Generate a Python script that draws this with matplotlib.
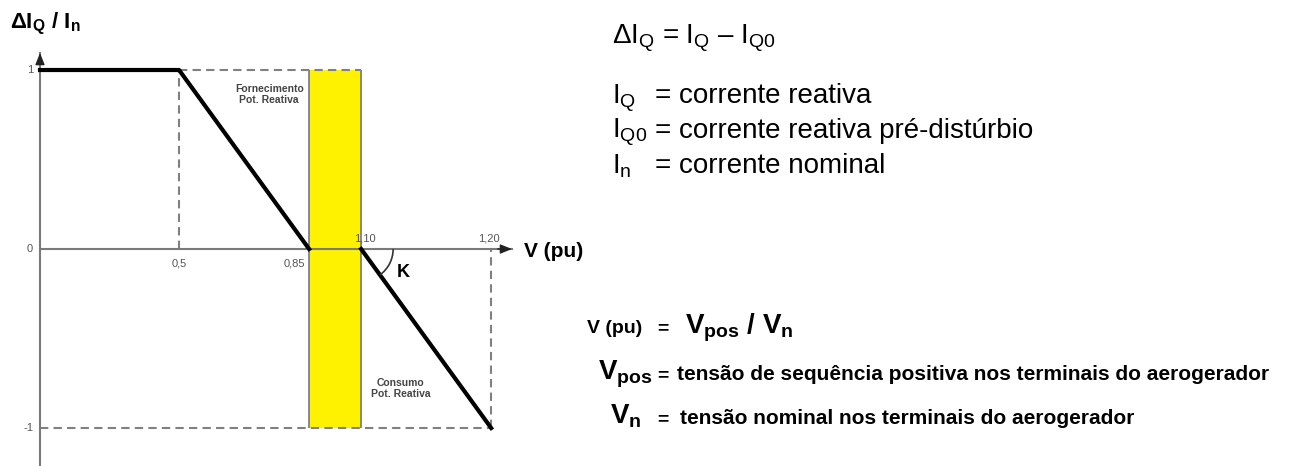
'''Reactive current injection curve (delta Iq / In versus V in pu).'''

import numpy as np
import matplotlib.pyplot as plt
from matplotlib.patches import Arc
from matplotlib.transforms import ScaledTranslation

plt.rcParams['font.family'] = ['Liberation Sans', 'DejaVu Sans']
plt.rcParams['mathtext.fontset'] = 'custom'
plt.rcParams['mathtext.rm'] = 'Liberation Sans'
plt.rcParams['mathtext.it'] = 'Liberation Sans:italic'
plt.rcParams['mathtext.bf'] = 'Liberation Sans:bold'

# characteristic: supply branch, dead band, absorption branch
v_supply = [0.0, 0.5, 0.85]
iq_supply = [1.0, 1.0, 0.0]
v_absorb = [1.10, 1.20]
iq_absorb = [0.0, -1.0]
deadband = [0.85, 1.10]

x_ticks = [0.5, 0.85, 1.10, 1.20]
x_tick_labels = ['0,5', '0,85', '1,10', '1,20']
y_ticks = [1, 0, -1]
y_tick_labels = ['1', '0', '-1']

# definitions written on the right
def_symbols = ['I$_\\mathrm{Q}$', 'I$_\\mathrm{Q0}$', 'I$_\\mathrm{n}$']
def_meanings = ['corrente reativa', 'corrente reativa pré-distúrbio', 'corrente nominal']
volt_symbols = ['V$_\\mathbf{pos}$', 'V$_\\mathbf{n}$']
volt_meanings = ['tensão de sequência positiva nos terminais do aerogerador',
                 'tensão nominal nos terminais do aerogerador']

# the V axis is schematic: every interval gets its own width
axis_breaks = [0.0, 0.5, 0.85, 1.10, 1.20, 1.30]
axis_widths = [0, 139, 269, 321, 451, 581]


def fwd(v):
    return np.interp(v, axis_breaks, axis_widths)


def inv(u):
    return np.interp(u, axis_widths, axis_breaks)


W, H = 1295, 466


def fx(px):
    return px / W


def fy(py):
    return 1 - py / H


fig = plt.figure(figsize=(W / 100, H / 100), dpi=100)
ax = fig.add_axes([fx(40), 0, 472 / W, 413 / H])
ax.set_xscale('function', functions=(fwd, inv))
ax.set_xlim(0, 1.216)
ax.set_ylim(-1.212, 1.095)
ax.set_axis_off()

grey = '#808080'
dash = (0, (4, 2.5))

# dead band
ax.fill_between(deadband, -1, 1, facecolor='#FFF200', edgecolor='none', zorder=1)
ax.vlines(deadband, -1, 1, color=grey, lw=1.3, zorder=2)

# dashed guides
ax.hlines(iq_supply[0], v_supply[1], deadband[1], color=grey, lw=1.5, linestyles=[dash], zorder=2)
ax.vlines(v_supply[1], 0, iq_supply[0], color=grey, lw=1.5, linestyles=[dash], zorder=2)
ax.hlines(iq_absorb[-1], 0, v_absorb[-1], color=grey, lw=1.5, linestyles=[dash], zorder=2)
ax.vlines(v_absorb[-1], iq_absorb[-1], 0, color=grey, lw=1.5, linestyles=[dash], zorder=2)

# axes with arrow heads
ax.axhline(0, color='#7a7a7a', lw=1.5, zorder=3, clip_on=False)
ax.axvline(0, color='#7a7a7a', lw=1.5, zorder=3, clip_on=False)
arrow = dict(arrowstyle='-|>,head_length=0.7,head_width=0.28', color='#222222',
             lw=1.0, shrinkA=0, shrinkB=0)
ax.annotate('', xy=(0, 1.095), xytext=(0, 1.06), arrowprops=arrow, zorder=4)
ax.annotate('', xy=(1.216, 0), xytext=(1.205, 0), arrowprops=arrow, zorder=4)

# characteristic curve
ax.plot(v_supply, iq_supply, color='black', lw=3, zorder=5, clip_on=False)
ax.plot(v_absorb, iq_absorb, color='black', lw=3, zorder=5, clip_on=False)

# tick labels
tick_style = dict(textcoords='offset points', fontsize=8, color='#555555')
for y, lab in zip(y_ticks, y_tick_labels):
    ax.annotate(lab, xy=(0, y), xytext=(-5, 0), ha='right', va='center', **tick_style)
x_offsets = [(0, -7), (-3, -7), (3, 4), (-2, 4)]
x_ha = ['center', 'right', 'center', 'center']
x_va = ['top', 'top', 'bottom', 'bottom']
for x, lab, off, ha, va in zip(x_ticks, x_tick_labels, x_offsets, x_ha, x_va):
    ax.annotate(lab, xy=(x, 0), xytext=off, ha=ha, va=va, **tick_style)

ax.annotate('V (pu)', xy=(1, 0), xycoords=('axes fraction', 'data'), xytext=(9, -2),
            textcoords='offset points', ha='left', va='center', fontsize=15, fontweight='bold')

# region labels
ax.annotate('Fornecimento\nPot. Reativa', xy=(deadband[0], 1), xytext=(-4, -10),
            textcoords='offset points', ha='right', va='top', multialignment='center',
            fontsize=7.5, fontweight='bold', color='#444444', linespacing=1.1)
ax.annotate('Consumo\nPot. Reativa', xy=(deadband[1], -1), xytext=(7, 21),
            textcoords='offset points', ha='left', va='bottom', multialignment='center',
            fontsize=7.5, fontweight='bold', color='#444444', linespacing=1.1)

# slope angle K
p0, p1 = ax.transData.transform([(v_absorb[0], iq_absorb[0]), (v_absorb[1], iq_absorb[1])])
slope_deg = np.degrees(np.arctan2(p1[1] - p0[1], p1[0] - p0[0]))
arc_trans = fig.dpi_scale_trans + ScaledTranslation(v_absorb[0], iq_absorb[0], ax.transData)
ax.add_patch(Arc((0, 0), 0.64, 0.64, theta1=slope_deg, theta2=0, transform=arc_trans,
                 color='#333333', lw=1.2, zorder=6))
ax.annotate('K', xy=(v_absorb[0], iq_absorb[0]), xytext=(26, -17), textcoords='offset points',
            ha='left', va='center', fontsize=13, fontweight='bold')

# y axis title
fig.text(fx(10), fy(28), 'ΔI$_\\mathbf{Q}$ / I$_\\mathbf{n}$', fontsize=16, fontweight='bold',
         va='baseline')

# definitions, upper right
fig.text(fx(612), fy(43), 'ΔI$_\\mathrm{Q}$ = I$_\\mathrm{Q}$ – I$_\\mathrm{Q0}$', fontsize=20,
         va='baseline')
for i, (sym, meaning) in enumerate(zip(def_symbols, def_meanings)):
    base = fy(103 + 35 * i)
    fig.text(fx(612), base, sym, fontsize=20, va='baseline')
    fig.text(fx(655), base, '= ' + meaning, fontsize=20, va='baseline')

# definitions, lower right
fig.text(fx(587), fy(333), 'V (pu)', fontsize=14, fontweight='bold', va='baseline')
fig.text(fx(657), fy(333), '=', fontsize=14, fontweight='bold', va='baseline')
fig.text(fx(685), fy(333), 'V$_\\mathbf{pos}$ / V$_\\mathbf{n}$', fontsize=20, fontweight='bold',
         va='baseline')
for sym, meaning, sx, tx, py in zip(volt_symbols, volt_meanings, [598, 610], [677, 680], [380, 424]):
    fig.text(fx(sx), fy(py), sym, fontsize=20, fontweight='bold', va='baseline')
    fig.text(fx(657), fy(py), '=', fontsize=14, fontweight='bold', va='baseline')
    fig.text(fx(tx), fy(py), meaning, fontsize=15, fontweight='bold', va='baseline')

fig.savefig('out.png', dpi=100)
